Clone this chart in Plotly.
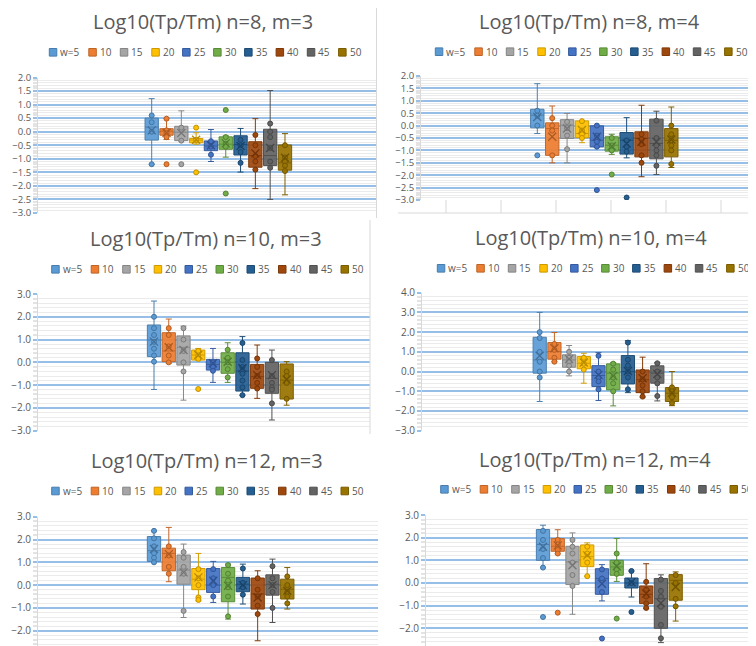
import plotly.graph_objects as go

# The page body has an 8px default margin, so the figure is drawn 8px smaller
# and every pixel position below (measured on the reference) is shifted by OFF.
OFF = 8
W, H = 756 - OFF, 646 - OFF

categories = ["w=5", "10", "15", "20", "25", "30", "35", "40", "45", "50"]
colors = ["#5B9BD5", "#ED7D31", "#A5A5A5", "#FFC000", "#4472C4",
          "#70AD47", "#255E91", "#9E480E", "#636363", "#997300"]

titles = ["Log10(Tp/Tm) n=8, m=3", "Log10(Tp/Tm) n=8, m=4",
          "Log10(Tp/Tm) n=10, m=3", "Log10(Tp/Tm) n=10, m=4",
          "Log10(Tp/Tm) n=12, m=3", "Log10(Tp/Tm) n=12, m=4"]

# ---- n=8, m=3
n8m3_low = [-1.2, -0.29, -0.34, -0.46, -1.1, -0.94, -1.49, -2.1, -2.5, -2.33]
n8m3_q1 = [-0.31, -0.13, -0.33, -0.41, -0.7, -0.65, -0.86, -1.31, -1.25, -1.42]
n8m3_med = [0.17, 0.02, -0.02, -0.31, -0.53, -0.46, -0.47, -0.88, -0.88, -1.15]
n8m3_q3 = [0.5, 0.11, 0.2, -0.25, -0.34, -0.19, -0.15, -0.37, 0.09, -0.49]
n8m3_high = [1.22, 0.48, 0.77, -0.04, 0.08, -0.15, 0.12, 0.48, 1.52, -0.07]
n8m3_mean = [0.05, -0.04, -0.05, -0.3, -0.5, -0.43, -0.53, -0.8, -0.6, -0.96]
n8m3_pts = [[0.6, 0.35, 0.0, -1.2], [0.48, 0.05, -0.05, -0.2, -1.2], [0.15, -0.33, -1.2],
            [0.15, -0.3, -1.5], [-0.35, -0.55, -0.85], [0.8, -0.2, -0.45, -0.55, -2.28],
            [-0.3, -0.5, -0.75, -1.15], [-0.12, -0.5, -0.9, -1.1, -1.4],
            [0.3, 0.0, -0.2, -0.6, -1.1, -1.33], [-0.5, -0.95, -1.1, -1.25, -1.45]]

# ---- n=8, m=4
n8m4_low = [-0.32, -1.5, -1.5, -0.69, -0.88, -1.16, -1.3, -2.06, -1.97, -1.69]
n8m4_q1 = [-0.09, -1.2, -0.52, -0.49, -0.86, -1.03, -1.15, -1.26, -1.34, -1.26]
n8m4_med = [0.42, -0.12, 0.02, -0.32, -0.59, -0.79, -0.59, -0.52, -0.72, -0.59]
n8m4_q3 = [0.66, 0.11, 0.24, 0.19, -0.01, -0.45, -0.28, -0.25, 0.26, -0.12]
n8m4_high = [1.69, 0.79, 0.49, 0.19, -0.01, -0.35, 0.32, 0.82, 0.58, 0.75]
n8m4_mean = [0.35, -0.45, -0.12, -0.18, -0.45, -0.83, -0.72, -0.65, -0.65, -0.56]
n8m4_pts = [[0.6, 0.4, 0.0, -1.2], [0.3, 0.0, -0.2, -1.2], [0.15, -0.1, -0.4, -0.95],
            [0.18, -0.2, -0.35, -0.5], [0.0, -0.4, -0.65, -0.85, -2.6], [-0.5, -0.8, -1.0, -1.97],
            [-0.6, -0.85, -1.05, -2.9], [-0.35, -0.55, -0.75, -1.2, -1.5],
            [0.2, -0.5, -0.8, -1.0, -1.2, -1.62], [0.0, -0.35, -0.6, -0.8, -1.0, -1.55]]

# ---- n=10, m=3
n10m3_low = [-1.19, -0.04, -1.66, 0.1, -0.88, -0.88, -1.44, -1.58, -2.53, -1.88]
n10m3_q1 = [0.25, 0.03, -0.12, 0.1, -0.34, -0.48, -1.26, -1.14, -1.36, -1.61]
n10m3_med = [0.98, 0.5, 0.66, 0.32, -0.09, 0.0, -0.38, -0.63, -0.7, -0.78]
n10m3_q3 = [1.64, 1.3, 1.16, 0.54, 0.13, 0.42, 0.42, -0.09, 0.0, -0.07]
n10m3_high = [2.69, 1.9, 1.59, 0.61, 0.61, 0.86, 1.13, 0.76, 0.54, 0.03]
n10m3_mean = [0.91, 0.66, 0.54, 0.32, -0.04, 0.03, -0.26, -0.56, -0.56, -0.75]
n10m3_pts = [[2.0, 1.5, 1.2, 0.9, 0.6, 0.3, 0.03], [1.5, 1.2, 0.7, 0.3, 0.0],
             [1.5, 1.0, 0.5, 0.0, -0.4], [0.5, 0.3, 0.15, -1.17], [0.0, -0.2, -0.37],
             [0.55, 0.2, 0.0, -0.3, -0.66], [0.85, 0.1, -0.2, -0.5, -0.8, -1.1, -1.44],
             [0.17, -0.2, -0.6, -0.9, -1.15], [0.1, -0.6, -0.9, -1.1, -1.2, -1.8],
             [-0.4, -0.6, -0.9, -1.6]]

# ---- n=10, m=4
n10m4_low = [-1.52, 0.5, -0.22, -0.59, -1.47, -1.74, -1.07, -1.3, -1.49, -1.73]
n10m4_q1 = [-0.08, 0.63, 0.22, 0.14, -0.76, -0.93, -0.63, -1.07, -0.59, -1.52]
n10m4_med = [0.59, 1.02, 0.59, 0.42, -0.2, -0.08, 0.0, -0.42, -0.08, -1.1]
n10m4_q3 = [1.74, 1.47, 0.85, 0.76, 0.3, 0.39, 0.81, 0.08, 0.29, -0.81]
n10m4_high = [3.0, 1.98, 1.32, 0.93, 0.96, 0.46, 1.57, 0.73, 0.46, 0.0]
n10m4_mean = [0.8, 1.18, 0.63, 0.46, -0.17, -0.22, 0.03, -0.34, -0.12, -1.07]
n10m4_pts = [[2.0, 1.7, 1.0, 0.5, 0.0, -0.3], [1.4, 1.1, 0.7, 0.5], [1.0, 0.7, 0.5, 0.3, 0.0],
             [0.7, 0.4, 0.1], [0.8, 0.0, -0.3, -0.5, -0.9], [0.4, 0.1, -0.3, -0.6, -1.0],
             [1.47, 0.6, 0.3, 0.0, -0.3, -0.9], [0.0, -0.4, -0.7, -1.0, -1.27],
             [0.42, 0.0, -0.3, -0.6, -1.24], [-0.8, -1.0, -1.3, -1.6]]

# ---- n=12, m=3
n12m3_low = [0.99, 0.15, -1.42, -0.69, -0.76, -1.49, -0.83, -2.44, -1.64, -1.05]
n12m3_q1 = [1.04, 0.63, 0.04, -0.2, -0.32, -0.73, -0.29, -1.05, -0.44, -0.61]
n12m3_med = [1.51, 1.39, 0.66, 0.26, 0.0, 0.34, 0.04, -0.39, 0.04, -0.18]
n12m3_q3 = [2.13, 1.62, 1.32, 0.73, 0.73, 0.77, 0.34, 0.31, 0.45, 0.26]
n12m3_high = [2.38, 2.53, 1.8, 1.39, 1.04, 0.92, 0.92, 0.63, 1.14, 0.77]
n12m3_mean = [1.58, 1.36, 0.56, 0.34, 0.19, -0.03, 0.0, -0.54, 0.0, -0.25]
n12m3_pts = [[2.38, 2.05, 1.7, 1.4, 1.2, 1.0], [1.7, 1.3, 0.8, 0.5], [1.45, 1.2, 0.8, 0.5, -1.13],
             [0.7, 0.3, 0.0, -0.54, -0.65], [0.7, 0.3, 0.0, -0.5], [0.88, 0.5, 0.2, -0.1, -0.5, -1.37],
             [0.73, 0.1, -0.1, -0.42], [0.3, -0.2, -0.5, -0.9, -1.27], [0.83, 0.3, 0.0, -0.3, -1.0],
             [0.38, 0.0, -0.3, -0.5, -0.8]]

# ---- n=12, m=4
n12m4_low = [0.68, 1.29, -1.38, 0.3, -0.79, 0.07, -0.62, -1.13, -2.63, -1.68]
n12m4_q1 = [1.0, 1.4, -0.07, 0.72, -0.5, 0.34, -0.22, -0.91, -2.0, -0.76]
n12m4_med = [1.7, 1.62, 0.93, 1.16, 0.2, 0.71, 0.0, -0.5, -0.69, 0.12]
n12m4_q3 = [2.36, 1.96, 1.62, 1.68, 0.63, 1.0, 0.22, -0.13, 0.2, 0.37]
n12m4_high = [2.55, 2.35, 2.21, 1.77, 0.81, 1.96, 0.53, 0.85, 0.36, 0.49]
n12m4_mean = [1.6, 1.66, 0.78, 1.22, -0.03, 0.74, 0.04, -0.47, -0.88, -0.18]
n12m4_pts = [[2.3, 1.9, 1.5, 1.1, 0.68, -1.5], [1.9, 1.7, 1.45, 1.3, -1.31],
             [1.9, 1.6, 1.3, 0.9, 0.35, -0.13], [1.6, 1.3, 0.9, 0.3], [0.6, 0.2, -0.4, -2.45],
             [1.3, 0.9, 0.6, 0.4, -1.57], [0.53, 0.0, -1.28], [0.05, -0.3, -0.6, -0.9, -1.1],
             [0.15, -0.35, -0.6, -1.05, -1.85, -2.44], [0.35, 0.0, -0.7, -1.03]]

data_sets = [
    (n8m3_low, n8m3_q1, n8m3_med, n8m3_q3, n8m3_high, n8m3_mean, n8m3_pts),
    (n8m4_low, n8m4_q1, n8m4_med, n8m4_q3, n8m4_high, n8m4_mean, n8m4_pts),
    (n10m3_low, n10m3_q1, n10m3_med, n10m3_q3, n10m3_high, n10m3_mean, n10m3_pts),
    (n10m4_low, n10m4_q1, n10m4_med, n10m4_q3, n10m4_high, n10m4_mean, n10m4_pts),
    (n12m3_low, n12m3_q1, n12m3_med, n12m3_q3, n12m3_high, n12m3_mean, n12m3_pts),
    (n12m4_low, n12m4_q1, n12m4_med, n12m4_q3, n12m4_high, n12m4_mean, n12m4_pts),
]

# Layout of each panel in screen pixels (plot area, first box centre, box pitch, legend, title)
layouts = [
    dict(L=38, R=376, c0=151.7, s=14.81, top=77.5, bot=213, yr=[-3, 2], dt=0.5, mn=0.1,
         lx=49.3, ly=52.3, tx=203, ty=21, fs=9.5),
    dict(L=421, R=756, c0=537.3, s=14.89, top=76, bot=200, yr=[-3, 2], dt=0.5, mn=0.1,
         lx=435.3, ly=51.7, tx=589, ty=21, fs=9.5),
    dict(L=38, R=370, c0=154, s=14.74, top=294, bot=430.7, yr=[-3, 3], dt=1, mn=0.2,
         lx=51.7, ly=269.3, tx=206, ty=238, fs=10),
    dict(L=422, R=756, c0=539.7, s=14.7, top=292.7, bot=430.7, yr=[-3, 4], dt=1, mn=0.2,
         lx=437.3, ly=268.3, tx=591, ty=237.5, fs=10),
    dict(L=38, R=378, c0=154, s=14.81, top=516.7, bot=646, yr=[-2.67, 3], dt=1, mn=0.2,
         lx=51.7, ly=491, tx=207, ty=460, fs=10),
    dict(L=426, R=756, c0=543, s=14.74, top=515, bot=646, yr=[-2.78, 3], dt=1, mn=0.2,
         lx=440.7, ly=489.3, tx=595, ty=459, fs=10),
]
leg_offsets = [0, 39.5, 71, 102.5, 133.3, 164.3, 195.3, 226.8, 258, 289.3]

FONT = "Open Sans"
TXT = "#595959"
BLUE = "#96BEE6"


def px(xp):
    return min(max((xp - OFF) / W, 0.0), 1.0)


def py(yp):
    return min(max(1 - (yp - OFF) / H, 0.0), 1.0)


def shade(hexc, f):
    r, g, b = int(hexc[1:3], 16), int(hexc[3:5], 16), int(hexc[5:7], 16)
    return f"rgb({int(r * f)},{int(g * f)},{int(b * f)})"


def rgba(hexc, a):
    r, g, b = int(hexc[1:3], 16), int(hexc[3:5], 16), int(hexc[5:7], 16)
    return f"rgba({r},{g},{b},{a})"


fig = go.Figure()
layout = dict(width=W, height=H, margin=dict(l=0, r=0, t=0, b=0, pad=0, autoexpand=False),
              paper_bgcolor="white", plot_bgcolor="white", showlegend=False,
              boxmode="overlay", font=dict(family=FONT, color=TXT))
shapes, annotations = [], []

for k, (ds, lay) in enumerate(zip(data_sets, layouts)):
    low, q1, med, q3, high, mean, pts = ds
    xn = "x" if k == 0 else f"x{k + 1}"
    yn = "y" if k == 0 else f"y{k + 1}"
    for i, cat in enumerate(categories):
        c = colors[i]
        fig.add_trace(go.Box(
            x=[i], q1=[q1[i]], median=[med[i]], q3=[q3[i]],
            lowerfence=[low[i]], upperfence=[high[i]], name=cat,
            width=0.9, whiskerwidth=0.45, boxpoints=False,
            fillcolor=rgba(c, 0.93), line=dict(color=shade(c, 0.82), width=1),
            xaxis=xn, yaxis=yn, showlegend=False))
        fig.add_trace(go.Scatter(
            x=[i] * len(pts[i]), y=pts[i], mode="markers", xaxis=xn, yaxis=yn,
            marker=dict(symbol="circle", size=5, color=c,
                        line=dict(color=shade(c, 0.75), width=1)),
            showlegend=False, hoverinfo="y"))
        fig.add_trace(go.Scatter(
            x=[i], y=[mean[i]], mode="markers", xaxis=xn, yaxis=yn,
            marker=dict(symbol="x-thin-open", size=8, color=shade(c, 0.72),
                        line=dict(color=shade(c, 0.72), width=1.3)),
            showlegend=False, hoverinfo="y"))

    L, R, c0, s = lay["L"], lay["R"], lay["c0"], lay["s"]
    layout["xaxis" if k == 0 else f"xaxis{k + 1}"] = dict(
        domain=[px(L), px(R)], range=[(L - c0) / s, (min(R, 756) - c0) / s],
        anchor=yn, visible=False, fixedrange=True, automargin=False)
    layout["yaxis" if k == 0 else f"yaxis{k + 1}"] = dict(
        domain=[py(lay["bot"]), py(lay["top"])], range=lay["yr"],
        anchor=xn, tick0=0, dtick=lay["dt"], tickformat=".1f", automargin=False,
        showgrid=True, gridcolor=BLUE, gridwidth=1.6, zeroline=False,
        showline=True, linecolor="#D9D9D9", linewidth=1,
        ticks="outside", ticklen=4, tickcolor=BLUE, tickwidth=1.6,
        tickfont=dict(family=FONT, size=lay["fs"], color=TXT),
        minor=dict(dtick=lay["mn"], showgrid=True, gridcolor="#EBEBEB", gridwidth=1,
                   ticks="outside", ticklen=4, tickcolor="#E3E3E3"),
        fixedrange=True)

    annotations.append(dict(text=titles[k], x=px(lay["tx"]), y=py(lay["ty"]),
                            xref="paper", yref="paper", xanchor="center", yanchor="middle",
                            showarrow=False, font=dict(family=FONT, size=20, color=TXT)))
    for i, cat in enumerate(categories):
        sx = lay["lx"] + leg_offsets[i]
        ly = lay["ly"]
        shapes.append(dict(type="rect", xref="paper", yref="paper",
                           x0=px(sx), x1=px(sx + 7.5),
                           y0=py(ly + 3.8), y1=py(ly - 3.8),
                           fillcolor=colors[i], line=dict(color=shade(colors[i], 0.8), width=1)))
        annotations.append(dict(text=cat, x=px(sx + 10), y=py(ly),
                                xref="paper", yref="paper", xanchor="left", yanchor="middle",
                                showarrow=False, borderpad=0,
                                font=dict(family=FONT, size=10, color=TXT)))

# panel separators / stray frame lines from the original screenshot
GRAY = "#D9D9D9"
for (x0, y0, x1, y1) in [(376.5, 8, 376.5, 218), (370, 220, 370, 434),
                         (398, 213, 756, 213)]:
    shapes.append(dict(type="line", xref="paper", yref="paper",
                       x0=px(x0), x1=px(x1), y0=py(y0), y1=py(y1),
                       line=dict(color=GRAY, width=1)))
for xv in [446, 501, 556, 611, 666, 721]:
    shapes.append(dict(type="line", xref="paper", yref="paper",
                       x0=px(xv), x1=px(xv), y0=py(200), y1=py(213),
                       line=dict(color=GRAY, width=1)))

layout["shapes"] = shapes
layout["annotations"] = annotations
fig.update_layout(**layout)
fig.write_html("out.html")
